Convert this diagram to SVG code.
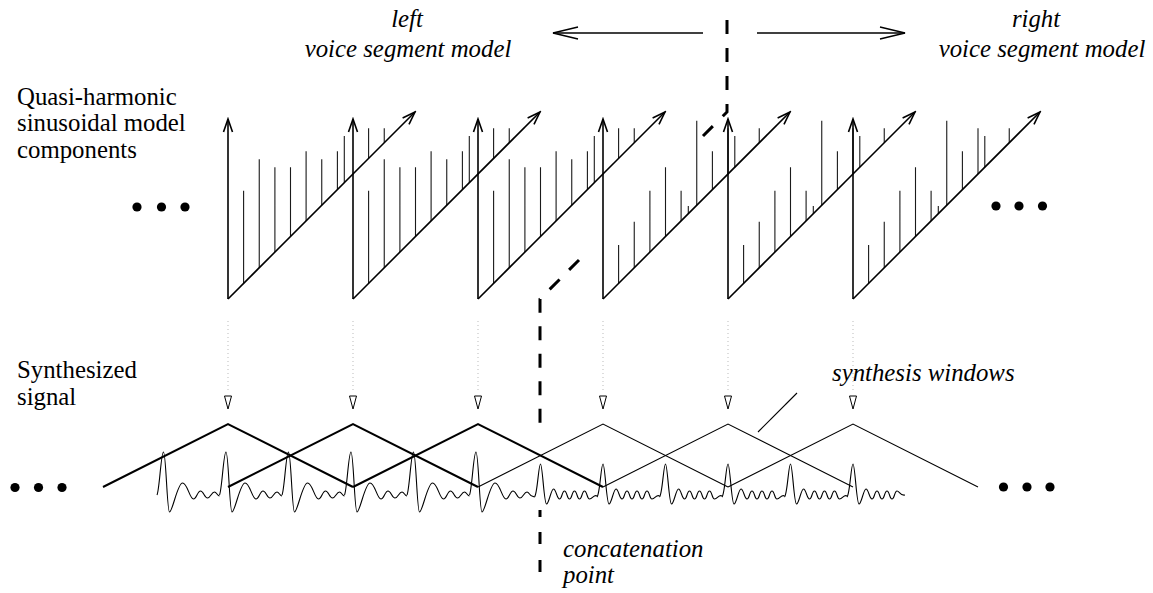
<svg xmlns="http://www.w3.org/2000/svg" xmlns:xlink="http://www.w3.org/1999/xlink" width="1153" height="593" viewBox="0 0 1153 593">
<style>
.ax{stroke:#000;stroke-width:1.6;fill:none}
.hm{stroke:#1a1a1a;stroke-width:1.1;fill:none}
.wl{fill:none;stroke:#000;stroke-width:2}
.wr{fill:none;stroke:#000;stroke-width:1.1}
.sig{fill:none;stroke:#000;stroke-width:1.1}
.dotl{stroke:#bbb;stroke-width:1;stroke-dasharray:1 3;fill:none}
.mk{fill:#fff;stroke:#000;stroke-width:1}
.cc{stroke:#000;stroke-width:3;fill:none}
.ld{stroke:#000;stroke-width:1.1;fill:none}
.blob{fill:#000}
text{font-family:"Liberation Serif","Times New Roman",serif;font-size:24.8px;fill:#000}
.it{font-style:italic}
</style>
<defs>
<marker id="ah" viewBox="-15 -6 17 12" refX="0" refY="0" markerWidth="17" markerHeight="12" markerUnits="userSpaceOnUse" orient="auto">
<path d="M-13,-4.5 L0,0 L-13,4.5" fill="none" stroke="#000" stroke-width="1.6"/>
</marker>
<marker id="ahb" viewBox="-27 -8 29 16" refX="0" refY="0" markerWidth="29" markerHeight="16" markerUnits="userSpaceOnUse" orient="auto">
<path d="M-25,-6 L0,0 L-25,6" fill="none" stroke="#000" stroke-width="1.4"/>
</marker>
<g id="sawL">
<path class="hm" d="M15.6,283.4V190.7M31.25,267.75V159.3M46.9,252.1V167.3M62.5,236.5V167.3M78.1,220.9V151.3M93.75,205.25V159.3M109.4,189.6V151.3M116.3,182.7V136M140.6,158.4V128.3M156.25,142.75V128.3"/>
<path class="ax" d="M0,299V119" marker-end="url(#ah)"/>
<path class="ax" d="M0,299L187,112" marker-end="url(#ah)"/>
</g>
<g id="sawR">
<path class="hm" d="M15.6,283.4V245M31.25,267.75V221.7M46.9,252.1V190.7M62.5,236.5V167.3M78.1,220.9V190.7M85.3,213.7V206M93.75,205.25V120.7M109.4,189.6V151.3M125,174V128.3M131.8,167.2V136M156.25,142.75V128.3"/>
<path class="ax" d="M0,299V119" marker-end="url(#ah)"/>
<path class="ax" d="M0,299L187,112" marker-end="url(#ah)"/>
</g>
<path id="pL" class="sig" d="M-6.5,495 C-4,490 -2.5,452 0,452 C2.5,452 3.5,512 6,512 C9,512 14,483 19,483 C24,483 26,499 30,499 C33,499 34,491 37,491 C40,491 41,498 44,498 C47,498 48,492 51,492 C53,492 54,496 56,496"/>
<path id="pR" class="sig" d="M-6,497 C-3,494 -2,464 0,464 C2,464 3.5,504 6,504 C8.5,504 10.5,489 13,489 C15.5,489 16.5,499 19,499 C21.5,499 21.5,491 24,491 C26.5,491 26.5,499 29,499 C31.5,499 31.5,491 34,491 C36.5,491 36.5,499 39,499 C41.5,499 41.5,491 44,491 C46.5,491 46.5,499 49,499 C52,499 53.5,494 56.5,496"/>
<path id="pRend" class="sig" d="M-6,497 C-3,494 -2,464 0,464 C2,464 3.5,504 6,504 C8.5,504 10.5,489 13,489 C15.5,489 16.5,499 19,499 C21.5,499 21.5,491 24,491 C26.5,491 26.5,499 29,499 C31.5,499 31.5,491 34,491 C36.5,491 36.5,499 39,499 C41.5,499 41.5,491 44,491 C46.5,491 47,496 52,495"/>
<path id="tri" class="mk" d="M-3.5,396H3.5L0,409Z"/>
</defs>

<g id="labels">
<text x="17" y="104.5">Quasi-harmonic</text>
<text x="17" y="131">sinusoidal model</text>
<text x="17" y="157.5">components</text>
<text x="17" y="378">Synthesized</text>
<text x="17" y="404.5">signal</text>
<text class="it" x="407" y="27" text-anchor="middle">left</text>
<text class="it" x="408" y="57" text-anchor="middle">voice segment model</text>
<text class="it" x="1036" y="27" text-anchor="middle">right</text>
<text class="it" x="1042" y="57" text-anchor="middle">voice segment model</text>
<text class="it" x="832" y="381">synthesis windows</text>
<text class="it" x="563" y="557">concatenation</text>
<text class="it" x="563" y="583">point</text>
</g>

<g id="ellipses">
<circle class="blob" cx="137" cy="207" r="4.6"/><circle class="blob" cx="161.5" cy="207" r="4.6"/><circle class="blob" cx="185" cy="207" r="4.6"/>
<circle class="blob" cx="996" cy="206" r="4.6"/><circle class="blob" cx="1019" cy="206" r="4.6"/><circle class="blob" cx="1042.5" cy="206" r="4.6"/>
<circle class="blob" cx="15" cy="487.5" r="4.6"/><circle class="blob" cx="38.5" cy="487.5" r="4.6"/><circle class="blob" cx="62" cy="487.5" r="4.6"/>
<circle class="blob" cx="1003.5" cy="487" r="4.6"/><circle class="blob" cx="1027" cy="487" r="4.6"/><circle class="blob" cx="1050" cy="487" r="4.6"/>
</g>

<g id="concat">
<path class="cc" d="M727,20V112L703,136" stroke-dasharray="14 14"/>
<path class="cc" d="M579,260L540,299V425" stroke-dasharray="14 13.5"/>
<path class="cc" d="M540,510V517M540,532V544M540,560V572"/>
</g>

<g id="unit1"><use xlink:href="#sawL" x="228"/></g>
<g id="unit2"><use xlink:href="#sawL" x="353"/></g>
<g id="unit3"><use xlink:href="#sawL" x="478"/></g>
<g id="unit4"><use xlink:href="#sawR" x="603"/></g>
<g id="unit5"><use xlink:href="#sawR" x="728"/></g>
<g id="unit6"><use xlink:href="#sawR" x="853"/></g>

<g id="connectors">
<path class="ax" d="M703,33H553" stroke-width="1.4" marker-end="url(#ahb)"/>
<path class="ax" d="M757,33H905" stroke-width="1.4" marker-end="url(#ahb)"/>
<path class="dotl" d="M228,321V393M353,321V393M478,321V393M603,321V393M728,321V393M853,321V393"/>
<path class="ld" d="M758,432L797,393"/>
</g>

<g id="markers">
<use xlink:href="#tri" x="228"/><use xlink:href="#tri" x="353"/><use xlink:href="#tri" x="478"/>
<use xlink:href="#tri" x="603"/><use xlink:href="#tri" x="728"/><use xlink:href="#tri" x="853"/>
</g>

<g id="windows">
<polyline class="wl" points="103,487 228,424 353,487"/>
<polyline class="wl" points="228,487 353,424 478,487"/>
<polyline class="wl" points="353,487 478,424 603,487"/>
<polyline class="wr" points="478,487 603,424 728,487"/>
<polyline class="wr" points="603,487 728,424 853,487"/>
<polyline class="wr" points="728,487 853,424 978,487"/>
</g>

<g id="signal">
<use xlink:href="#pL" x="163.5"/><use xlink:href="#pL" x="226"/><use xlink:href="#pL" x="288.5"/>
<use xlink:href="#pL" x="351"/><use xlink:href="#pL" x="413.5"/><use xlink:href="#pL" x="476"/>
<path class="sig" d="M532,496L534.5,497"/>
<use xlink:href="#pR" x="540.5"/><use xlink:href="#pR" x="603"/><use xlink:href="#pR" x="665.5"/>
<use xlink:href="#pR" x="728"/><use xlink:href="#pR" x="790.5"/><use xlink:href="#pRend" x="853"/>
</g>
</svg>
